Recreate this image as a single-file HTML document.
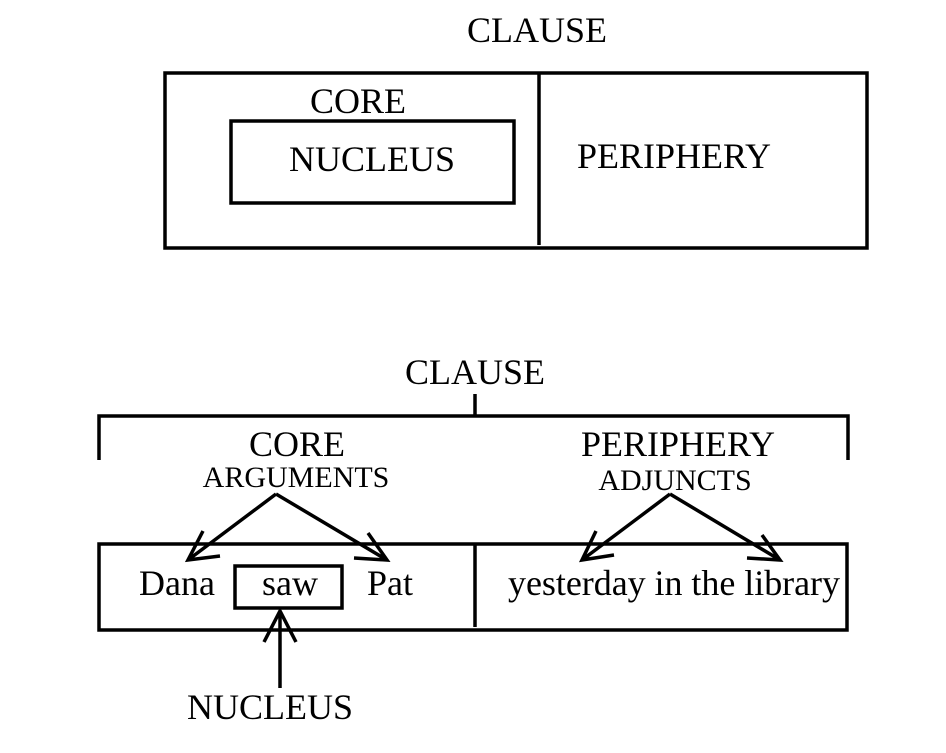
<!DOCTYPE html>
<html><head><meta charset="utf-8"><style>
html,body{margin:0;padding:0;background:#fff}
svg text{font-family:"Liberation Serif",serif;fill:#000}
</style></head><body>
<svg width="946" height="748" viewBox="0 0 946 748" xmlns="http://www.w3.org/2000/svg">
<g stroke="#000" stroke-width="3.5" fill="none">
  <rect x="165" y="73" width="702" height="175"/>
  <line x1="539" y1="73" x2="539" y2="245"/>
  <rect x="231" y="121" width="283" height="82"/>
  <path d="M99,460 V416 H848 V460 M475,394 V416"/>
  <rect x="99" y="544" width="748" height="86"/>
  <line x1="475" y1="544" x2="475" y2="627"/>
  <rect x="235" y="566" width="107" height="42"/>
  <path d="M276,494 L188,560 M203,531 L188,560 L220,556"/>
  <path d="M276,494 L387,560 M368,533 L387,560 L354,558"/>
  <path d="M670,494 L582,560 M596,531 L582,560 L614,555"/>
  <path d="M670,494 L780,560 M762,535 L780,560 L747,558"/>
  <path d="M280,688 V611 M264,642 L280,611 L296,642"/>
</g>
<text x="537" y="42" font-size="36" text-anchor="middle">CLAUSE</text>
<text x="310" y="113" font-size="36">CORE</text>
<text x="289" y="171" font-size="36">NUCLEUS</text>
<text x="577" y="168" font-size="36">PERIPHERY</text>
<text x="475" y="384" font-size="36" text-anchor="middle">CLAUSE</text>
<text x="297" y="456" font-size="36" text-anchor="middle">CORE</text>
<text x="296" y="487" font-size="30" text-anchor="middle">ARGUMENTS</text>
<text x="678" y="456" font-size="36" text-anchor="middle">PERIPHERY</text>
<text x="675" y="490" font-size="30" text-anchor="middle">ADJUNCTS</text>
<text x="139" y="595" font-size="36">Dana</text>
<text x="290" y="595" font-size="36" text-anchor="middle">saw</text>
<text x="367" y="595" font-size="36">Pat</text>
<text x="508" y="595" font-size="36" textLength="332">yesterday in the library</text>
<text x="270" y="719" font-size="36" text-anchor="middle">NUCLEUS</text>
</svg>
</body></html>
